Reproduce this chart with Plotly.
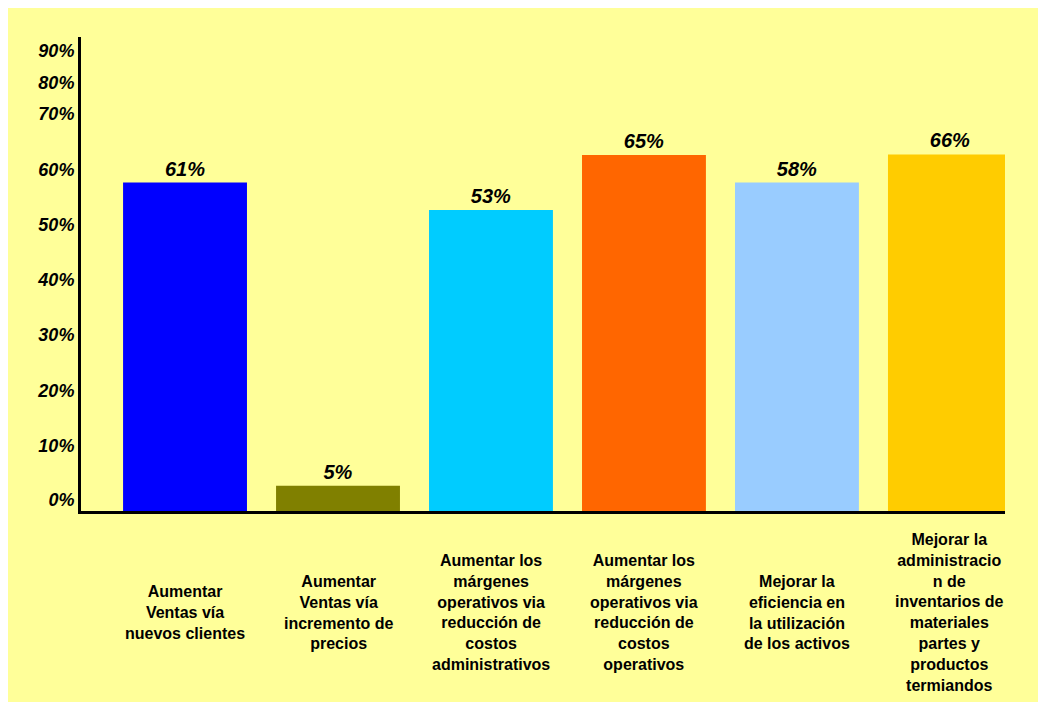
import plotly.graph_objects as go

categories = [
    "Aumentar<br>Ventas vía<br>nuevos clientes",
    "Aumentar<br>Ventas vía<br>incremento de<br>precios",
    "Aumentar los<br>márgenes<br>operativos via<br>reducción de<br>costos<br>administrativos",
    "Aumentar los<br>márgenes<br>operativos via<br>reducción de<br>costos<br>operativos",
    "Mejorar la<br>eficiencia en<br>la utilización<br>de los activos",
    "Mejorar la<br>administracio<br>n de<br>inventarios de<br>materiales<br>partes y<br>productos<br>termiandos",
]
bar_heights = [59.6, 4.6, 54.6, 64.6, 59.6, 64.7]
value_labels = ["61%", "5%", "53%", "65%", "58%", "66%"]
bar_colors = ["#0000FF", "#808000", "#00CCFF", "#FF6600", "#99CCFF", "#FFCC00"]
tick_positions = [2.0, 11.8, 21.8, 31.9, 41.9, 51.9, 62.0, 72.0, 77.8, 83.5]
tick_labels = ["0%", "10%", "20%", "30%", "40%", "50%", "60%", "70%", "80%", "90%"]

FONT = "Arial, 'Liberation Sans', sans-serif"
BG = "#FFFF99"

keys = list(range(len(categories)))

fig = go.Figure()
fig.add_trace(go.Bar(
    x=keys,
    y=bar_heights,
    marker=dict(color=bar_colors, line=dict(width=0)),
    text=value_labels,
    texttemplate="<b><i>%{text}</i></b>",
    textposition="outside",
    textfont=dict(family=FONT, size=20, color="black"),
    cliponaxis=False,
    width=0.81,
    hoverinfo="skip",
))

for k, label in zip(keys, categories):
    fig.add_annotation(
        x=k, y=-0.214, xref="x", yref="paper",
        text="<b>" + label + "</b>",
        showarrow=False, align="center",
        xanchor="center", yanchor="middle",
        font=dict(family=FONT, size=16, color="black"),
    )

fig.update_layout(
    width=1046, height=702,
    margin=dict(l=73, r=49, t=29, b=199),
    paper_bgcolor=BG, plot_bgcolor=BG,
    showlegend=False,
    font=dict(family=FONT),
)
fig.update_xaxes(
    range=[-0.68, 5.36],
    showline=True, linecolor="black", linewidth=3,
    showticklabels=False, ticks="", showgrid=False, zeroline=False,
)
fig.update_yaxes(
    range=[0, 86.0],
    tickmode="array", tickvals=tick_positions,
    ticktext=["<b><i>" + t + "</i></b>" for t in tick_labels],
    tickfont=dict(family=FONT, size=18, color="black"),
    showline=True, linecolor="black", linewidth=3,
    ticks="", showgrid=False, zeroline=False,
)

fig.write_html(
    "out.html",
    post_script="document.documentElement.style.overflow='hidden';"
                "document.body.style.overflow='hidden';",
)
